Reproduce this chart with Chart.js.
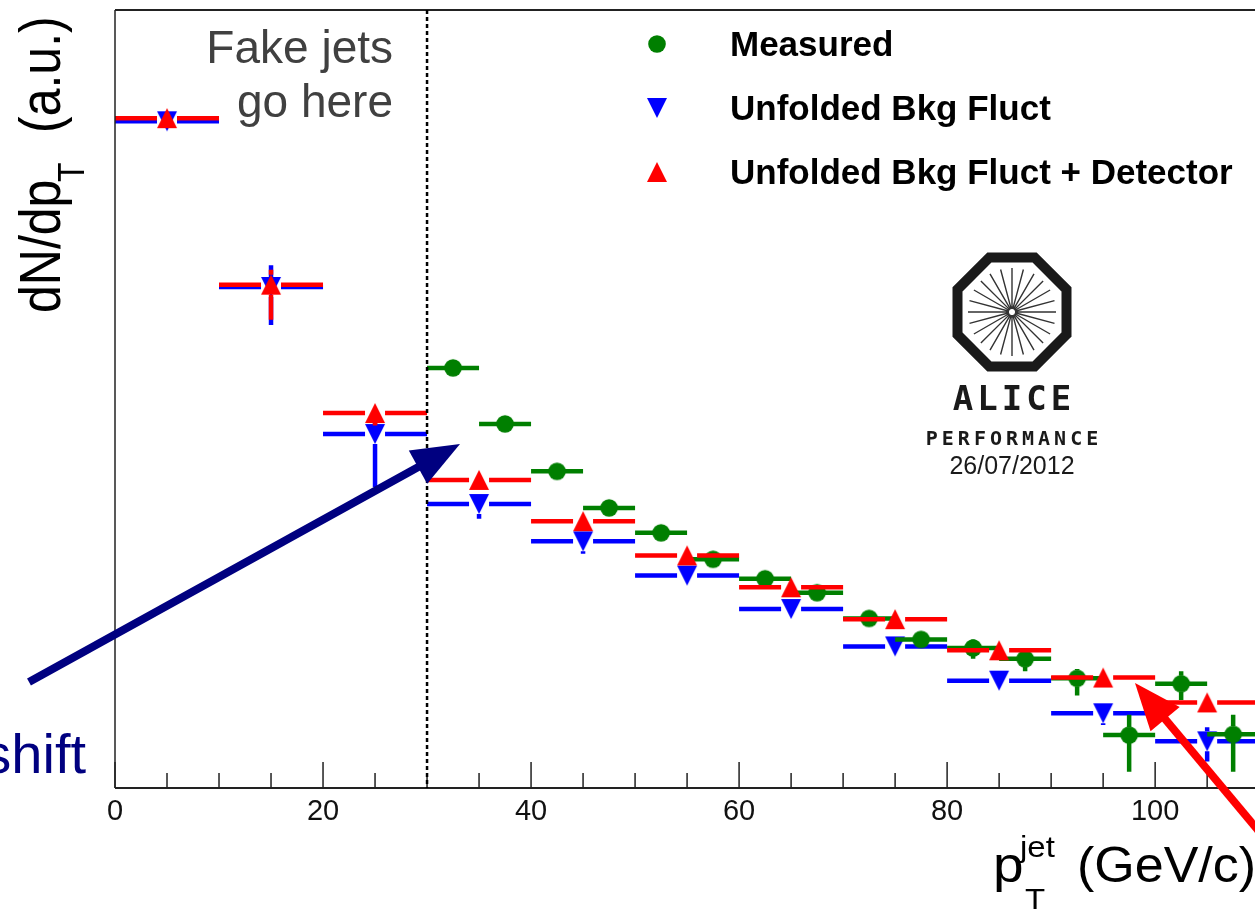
<!DOCTYPE html>
<html>
<head>
<meta charset="utf-8">
<script src="https://cdn.jsdelivr.net/npm/chart.js@4.4.1/dist/chart.umd.min.js"></script>
<style>
  html, body { margin: 0; padding: 0; background: #fff; }
  #wrap { width: 1255px; height: 909px; overflow: hidden; }
</style>
</head>
<body>
<div id="wrap"><canvas id="jetChart" width="1255" height="909"></canvas></div>
<script>
// bin centres, GeV/c
const unfoldedPt = [5, 15, 25, 35, 45, 55, 65, 75, 85, 95, 105];
const measuredPt = [32.5, 37.5, 42.5, 47.5, 52.5, 57.5, 62.5, 67.5, 72.5, 77.5, 82.5, 87.5, 92.5, 97.5, 102.5, 107.5];
const unfoldedHalfWidth = 5;
const measuredHalfWidth = 2.5;

// dN/dpT in arbitrary units
const measured        = [54.0, 46.8, 40.7, 36.0, 32.8, 29.4, 26.9, 25.1, 21.8, 19.1, 18.0, 16.6, 14.1, 6.8, 13.4, 6.9];
const measuredErrUp   = [0.5, 0.5, 0.5, 0.5, 0.5, 0.5, 0.5, 0.5, 0.5, 0.5, 1.1, 0.9, 1.2, 2.6, 1.6, 2.5];
const measuredErrDown = [0.5, 0.5, 0.5, 0.5, 0.5, 0.5, 0.5, 0.5, 0.5, 0.5, 1.4, 1.6, 2.2, 4.7, 2.1, 4.8];

const bkgFluct        = [85.7, 64.4, 45.5, 36.5, 31.7, 27.3, 23.0, 18.2, 13.8, 9.6, 6.0];
const bkgFluctErrUp   = [0, 2.8, 2.5, 0, 0, 0, 0, 0, 0, 0, 1.8];
const bkgFluctErrDown = [0, 4.9, 6.8, 1.9, 1.6, 0, 0, 0, 0, 1.5, 2.6];

const bkgDet          = [86.1, 64.7, 48.2, 39.6, 34.3, 29.9, 25.8, 21.7, 17.7, 14.2, 11.0];
const bkgDetErrUp     = [0, 1.9, 1.0, 0, 0, 0, 0, 0, 0, 0, 0];
const bkgDetErrDown   = [0, 4.5, 1.6, 0, 0, 0, 0, 0, 0, 0, 0];

const xTickLabels = [0, 20, 40, 60, 80, 100];
const fakeJetEdge = 30;

const GREEN = '#007f00', BLUE = '#0000ff', RED = '#ff0000', NAVY = '#000080';

// ROOT-like markers as small canvases
function makeMarker(kind, color) {
  const c = document.createElement('canvas');
  c.width = 22; c.height = 22;
  const g = c.getContext('2d');
  g.fillStyle = color;
  g.beginPath();
  if (kind === 'circle') {
    g.arc(11, 11, 8.8, 0, Math.PI * 2);
  } else if (kind === 'up') {
    g.moveTo(11, 1); g.lineTo(21, 21); g.lineTo(1, 21); g.closePath();
  } else {
    g.moveTo(1, 1); g.lineTo(21, 1); g.lineTo(11, 21); g.closePath();
  }
  g.fill();
  return c;
}
const circleMarker = makeMarker('circle', GREEN);
const downMarker = makeMarker('down', BLUE);
const upMarker = makeMarker('up', RED);

function toPoints(xs, ys) {
  return xs.map((x, i) => ({ x: x, y: ys[i] }));
}

// horizontal bin-width lines and vertical error bars, drawn under each dataset's markers
const errorBars = {
  id: 'errorBars',
  beforeDatasetDraw(chart, args) {
    const ds = chart.data.datasets[args.index];
    const xs = chart.scales.x, ys = chart.scales.y;
    const ctx = chart.ctx;
    ctx.save();
    ctx.strokeStyle = ds.barColor;
    ctx.lineWidth = 4.5;
    ds.data.forEach((p, i) => {
      const cx = xs.getPixelForValue(p.x), cy = ys.getPixelForValue(p.y);
      const l = xs.getPixelForValue(p.x - ds.halfWidth), r = xs.getPixelForValue(p.x + ds.halfWidth);
      const top = ys.getPixelForValue(p.y + ds.errUp[i]);
      const bot = ys.getPixelForValue(p.y - ds.errDown[i]);
      ctx.beginPath();
      ctx.moveTo(l, cy); ctx.lineTo(cx - ds.hGap, cy);
      ctx.moveTo(cx + ds.hGap, cy); ctx.lineTo(r, cy);
      if (cy - top > ds.vGap) { ctx.moveTo(cx, top); ctx.lineTo(cx, cy - ds.vGap); }
      if (bot - cy > ds.vGap) { ctx.moveTo(cx, cy + ds.vGap); ctx.lineTo(cx, bot); }
      ctx.stroke();
    });
    ctx.restore();
  }
};

function drawText(ctx, str, x, y, font, color, align, sx) {
  ctx.save();
  ctx.font = font;
  ctx.fillStyle = color;
  ctx.textAlign = align || 'left';
  ctx.textBaseline = 'alphabetic';
  ctx.translate(x, y);
  ctx.scale(sx || 1, 1);
  ctx.fillText(str, 0, 0);
  ctx.restore();
}

function drawArrow(ctx, x0, y0, x1, y1, color, width, headLen, headHalf) {
  const dx = x1 - x0, dy = y1 - y0;
  const len = Math.hypot(dx, dy);
  const ux = dx / len, uy = dy / len;
  const bx = x1 - ux * headLen, by = y1 - uy * headLen;
  ctx.save();
  ctx.strokeStyle = color;
  ctx.fillStyle = color;
  ctx.lineWidth = width;
  ctx.beginPath();
  ctx.moveTo(x0, y0);
  ctx.lineTo(bx + ux * 4, by + uy * 4);
  ctx.stroke();
  ctx.beginPath();
  ctx.moveTo(x1, y1);
  ctx.lineTo(bx - uy * headHalf, by + ux * headHalf);
  ctx.lineTo(bx + uy * headHalf, by - ux * headHalf);
  ctx.closePath();
  ctx.fill();
  ctx.restore();
}

function drawAliceLogo(ctx, cx, cy) {
  ctx.save();
  ctx.strokeStyle = '#1a1a1a';
  ctx.lineWidth = 10;
  const R = 54.5 / Math.cos(Math.PI / 8);
  ctx.beginPath();
  for (let k = 0; k < 8; k++) {
    const a = Math.PI / 8 + k * Math.PI / 4;
    const px = cx + R * Math.cos(a), py = cy + R * Math.sin(a);
    if (k === 0) ctx.moveTo(px, py); else ctx.lineTo(px, py);
  }
  ctx.closePath();
  ctx.stroke();
  ctx.lineWidth = 1.4;
  ctx.strokeStyle = '#333';
  ctx.beginPath();
  for (let k = 0; k < 24; k++) {
    const a = k * Math.PI / 12;
    ctx.moveTo(cx + 3 * Math.cos(a), cy + 3 * Math.sin(a));
    ctx.lineTo(cx + 44 * Math.cos(a), cy + 44 * Math.sin(a));
  }
  ctx.stroke();
  ctx.fillStyle = '#1a1a1a';
  ctx.textAlign = 'center';
  ctx.font = 'bold 34px "DejaVu Sans Mono"';
  ctx.letterSpacing = '4px';
  ctx.fillText('ALICE', cx + 2, 410);
  ctx.font = 'bold 20px "DejaVu Sans Mono"';
  ctx.letterSpacing = '4px';
  ctx.fillText('PERFORMANCE', cx + 2, 445);
  ctx.letterSpacing = '0px';
  ctx.font = '25px "Liberation Sans"';
  ctx.fillText('26/07/2012', cx, 474);
  ctx.restore();
}

const decorations = {
  id: 'decorations',
  afterDraw(chart) {
    const ctx = chart.ctx;
    const a = chart.chartArea;
    const xs = chart.scales.x;

    // frame and axes
    ctx.save();
    ctx.strokeStyle = '#222';
    ctx.lineWidth = 1.5;
    ctx.beginPath();
    ctx.moveTo(a.left, a.top); ctx.lineTo(a.left, a.bottom);
    ctx.stroke();
    ctx.lineWidth = 2;
    ctx.beginPath();
    ctx.moveTo(a.left, a.bottom); ctx.lineTo(a.right, a.bottom);
    ctx.moveTo(a.left, a.top); ctx.lineTo(a.right, a.top);
    ctx.stroke();
    // inward ticks: major every 20, minor every 5
    ctx.lineWidth = 1.5;
    ctx.beginPath();
    for (let v = 0; v <= xs.max; v += 5) {
      const px = xs.getPixelForValue(v);
      const len = v % 20 === 0 ? 26 : 15;
      ctx.moveTo(px, a.bottom); ctx.lineTo(px, a.bottom - len);
    }
    ctx.stroke();
    // fake-jet boundary
    const fx = xs.getPixelForValue(fakeJetEdge);
    ctx.strokeStyle = '#000';
    ctx.lineWidth = 2.5;
    ctx.setLineDash([4, 3]);
    ctx.beginPath();
    ctx.moveTo(fx, a.top); ctx.lineTo(fx, a.bottom);
    ctx.stroke();
    ctx.setLineDash([]);
    ctx.restore();

    // legend
    const rows = [44, 108, 172];
    [0, 1, 2].forEach((i, r) => {
      const ds = chart.data.datasets[i];
      const m = ds.pointStyle;
      ctx.drawImage(m, 657 - m.width / 2, rows[r] - m.height / 2);
      drawText(ctx, ds.label, 730, rows[r] + 12, 'bold 35px "Liberation Sans"', '#000', 'left', 1);
    });

    drawText(ctx, 'Fake jets', 393, 63, '46px "Liberation Sans"', '#404040', 'right', 1);
    drawText(ctx, 'go here', 393, 117, '46px "Liberation Sans"', '#404040', 'right', 1);

    drawAliceLogo(ctx, 1012, 312);

    // axis titles
    drawText(ctx, 'p', 993, 882, '50px "Liberation Sans"', '#000', 'left', 1.1);
    drawText(ctx, 'jet', 1020, 857, '30px "Liberation Sans"', '#000', 'left', 1.1);
    drawText(ctx, 'T', 1025, 909, '30px "Liberation Sans"', '#000', 'left', 1.1);
    drawText(ctx, '(GeV/c)', 1077, 882, '50px "Liberation Sans"', '#000', 'left', 1.04);

    ctx.save();
    ctx.translate(60, 313);
    ctx.rotate(-Math.PI / 2);
    ctx.scale(1, 1.15);
    ctx.fillStyle = '#000';
    ctx.font = '50px "Liberation Sans"';
    ctx.fillText('dN/dp', 0, 0);
    ctx.font = '32px "Liberation Sans"';
    ctx.fillText('T', 131, 21);
    ctx.font = '50px "Liberation Sans"';
    ctx.fillText('(a.u.)', 180, 0);
    ctx.restore();

    // annotation arrows
    drawArrow(ctx, 29, 682, 460, 444, NAVY, 8, 48, 19);
    drawText(ctx, 'shift', 86, 773, '56px "Liberation Sans"', NAVY, 'right', 1);
    drawArrow(ctx, 1262, 835, 1135, 683, RED, 8, 47, 19);
  }
};

const chart = new Chart(document.getElementById('jetChart'), {
  type: 'scatter',
  data: {
    datasets: [
      {
        label: 'Measured',
        data: toPoints(measuredPt, measured),
        errUp: measuredErrUp, errDown: measuredErrDown,
        halfWidth: measuredHalfWidth, hGap: 0, vGap: 8,
        barColor: GREEN,
        pointStyle: circleMarker, pointRadius: 10,
        order: 1
      },
      {
        label: 'Unfolded Bkg Fluct',
        data: toPoints(unfoldedPt, bkgFluct),
        errUp: bkgFluctErrUp, errDown: bkgFluctErrDown,
        halfWidth: unfoldedHalfWidth, hGap: 10, vGap: 10,
        barColor: BLUE,
        pointStyle: downMarker, pointRadius: 10,
        order: 2
      },
      {
        label: 'Unfolded Bkg Fluct + Detector',
        data: toPoints(unfoldedPt, bkgDet),
        errUp: bkgDetErrUp, errDown: bkgDetErrDown,
        halfWidth: unfoldedHalfWidth, hGap: 10, vGap: 10,
        barColor: RED,
        pointStyle: upMarker, pointRadius: 10,
        order: 0
      }
    ]
  },
  options: {
    responsive: false,
    animation: false,
    events: [],
    layout: {
      autoPadding: false,
      padding: { left: 115, top: 10, right: 0, bottom: 0 }
    },
    plugins: {
      legend: { display: false },
      tooltip: { enabled: false }
    },
    scales: {
      x: {
        type: 'linear',
        min: 0,
        max: 109.6,
        grid: { display: false, drawTicks: false },
        border: { display: false },
        ticks: {
          autoSkip: false,
          maxRotation: 0,
          padding: 7,
          color: '#111',
          font: { family: 'Liberation Sans', size: 29 }
        },
        afterBuildTicks: s => { s.ticks = xTickLabels.map(v => ({ value: v })); },
        afterFit: s => {
          s.height = 121;
          s.paddingLeft = 0;
          s.paddingRight = 0;
        }
      },
      y: {
        type: 'linear',
        display: false,
        min: 0,
        max: 100
      }
    }
  },
  plugins: [errorBars, decorations]
});
</script>
</body>
</html>
